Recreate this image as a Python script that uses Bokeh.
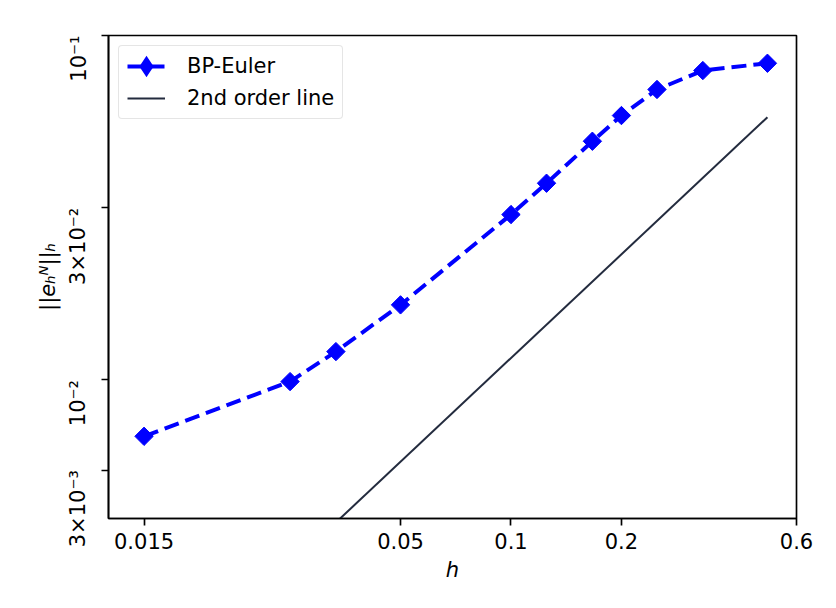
from math import pi
from bokeh.plotting import figure
from bokeh.models import FixedTicker, Range1d
from bokeh.embed import file_html
from bokeh.resources import INLINE

# data
h = [0.01, 0.025, 1/30, 0.05, 0.1, 0.125, 1/6, 0.2, 0.25, 1/3, 0.5]
err = [4.71e-4, 9.79e-4, 1.462e-3, 2.73e-3, 9.13e-3, 1.388e-2, 2.433e-2,
       3.43e-2, 4.86e-2, 6.26e-2, 6.90e-2]
order_h = [0.01, 0.5]
order_err = [1.34e-5, 3.354e-2]

x_ticks = [0.01, 0.05, 0.1, 0.2, 0.6]
x_tick_labels = ["0.015", "0.05", "0.1", "0.2", "0.6"]
y_ticks = [0.1, 0.01, 0.001, 0.0003]
y_tick_labels = ["10\u207b\u00b9", "3\u00d710\u207b\u00b2", "10\u207b\u00b2", "3\u00d710\u207b\u00b3"]

FONT = "DejaVu Sans"
FS = "21px"
LW = 1.67

p = figure(x_axis_type="log", y_axis_type="log",
           x_range=Range1d(0.008, 0.6), y_range=Range1d(1.57e-4, 0.1),
           frame_width=688, frame_height=483,
           min_border_left=108, min_border_top=35, min_border_right=32, min_border_bottom=82,
           output_backend="svg", toolbar_location=None)

p.grid.visible = False
p.outline_line_color = "black"
p.outline_line_width = LW
p.background_fill_color = "white"

p.line(h, err, line_color="blue", line_width=4, line_dash="15 7", legend_label="BP-Euler")
# diamond used as the legend sample (drawn small, hidden under the real markers)
p.scatter(h, err, marker="diamond", size=2, fill_color="blue", line_color="blue",
          line_width=7, line_join="miter", legend_label="BP-Euler")
p.scatter(h, err, marker="square", size=13, angle=pi/4, fill_color="blue",
          line_color="blue", line_width=1)
p.line(order_h, order_err, line_color="#232b3e", line_width=2, legend_label="2nd order line")

for ax in (p.xaxis[0], p.yaxis[0]):
    ax.axis_line_width = LW
    ax.axis_line_color = "black"
    ax.major_tick_in = 0
    ax.major_tick_out = 7
    ax.major_tick_line_width = LW
    ax.minor_tick_line_color = None
    ax.major_label_text_font = FONT
    ax.major_label_text_font_size = FS
    ax.major_label_text_color = "black"
    ax.axis_label_text_font = FONT
    ax.axis_label_text_font_size = FS
    ax.axis_label_text_font_style = "italic"
    ax.axis_label_text_color = "black"

p.xaxis.ticker = FixedTicker(ticks=x_ticks)
p.xaxis.major_label_overrides = dict(zip(x_ticks, x_tick_labels))
p.xaxis.major_label_standoff = 7
p.xaxis.axis_label = "h"
p.xaxis.axis_label_standoff = 6

p.yaxis.ticker = FixedTicker(ticks=y_ticks)
p.yaxis.major_label_overrides = dict(zip(y_ticks, y_tick_labels))
p.yaxis.major_label_orientation = pi/2
p.yaxis.major_label_standoff = 23
p.yaxis.axis_label = "||e\u2095\u1d3a||\u2095"
p.yaxis.axis_label_standoff = -8

lg = p.legend[0]
lg.location = "top_left"
lg.margin = 10
lg.padding = 8
lg.spacing = 8
lg.label_height = 22
lg.glyph_height = 22
lg.glyph_width = 38
lg.label_standoff = 22
lg.label_text_font = FONT
lg.label_text_font_size = FS
lg.label_text_color = "black"
lg.border_line_color = "#cccccc"
lg.border_line_width = LW
lg.background_fill_alpha = 0.8
try:
    lg.border_radius = 4
except Exception:
    pass

open("out.html", "w").write(file_html(p, INLINE))
